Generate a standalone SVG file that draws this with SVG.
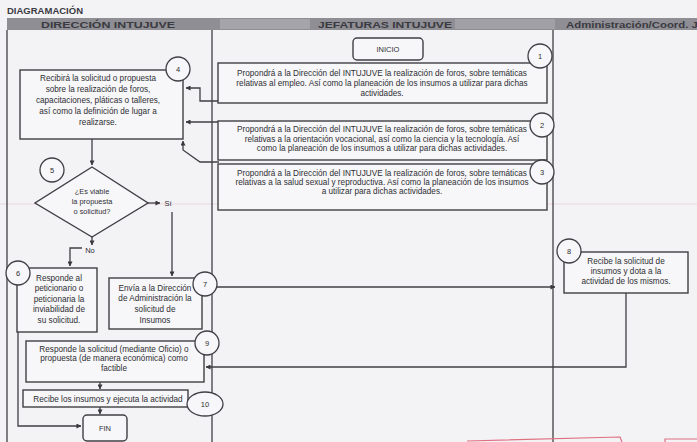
<svg xmlns="http://www.w3.org/2000/svg" width="697" height="442" viewBox="0 0 697 442">
<defs>
<marker id="ah" viewBox="0 0 6 6" refX="5.5" refY="3" markerWidth="5" markerHeight="5" orient="auto" markerUnits="userSpaceOnUse">
<path d="M0,0 L6,3 L0,6 z" fill="#3a3a3e"/>
</marker>
<style>
.bx{fill:#f7f7f9;stroke:#3f3f44;stroke-width:1.4}
.ci{fill:#f7f7f9;stroke:#3f3f44;stroke-width:1.3}
.ln{fill:none;stroke:#3f3f44;stroke-width:1.3}
.ct{fill:none;stroke:#3f3f44;stroke-width:1.3;marker-end:url(#ah)}
.t{font-family:"Liberation Sans",Arial,sans-serif;font-size:8.2px;fill:#2e2e33;text-anchor:middle}
.d{font-family:"Liberation Sans",Arial,sans-serif;font-size:7.4px;fill:#2e2e33;text-anchor:middle}
.n{font-family:"Liberation Sans",Arial,sans-serif;font-size:7.5px;fill:#2e2e33;text-anchor:middle}
.h{font-family:"Liberation Sans",Arial,sans-serif;font-size:8.5px;font-weight:bold;fill:#3a3a40}
</style>
</defs>
<rect x="0" y="0" width="697" height="442" fill="#f3f3f6"/>
<line x1="0" y1="204" x2="697" y2="204" stroke="#e9d6dc" stroke-width="1"/>
<text x="7" y="14" class="h" style="font-size:9.5px">DIAGRAMACIÓN</text>
<g id="header">
<rect x="7" y="18" width="690" height="12" fill="#8e8e94"/>
<rect x="220" y="19" width="90" height="10" fill="#a4a4aa"/>
<rect x="455" y="19" width="100" height="10" fill="#a0a0a6"/>
<text x="108" y="27.5" class="h" text-anchor="middle" textLength="134" lengthAdjust="spacingAndGlyphs">DIRECCIÓN INTUJUVE</text>
<text x="385" y="27.5" class="h" text-anchor="middle" textLength="134" lengthAdjust="spacingAndGlyphs">JEFATURAS INTUJUVE</text>
<text x="566" y="27.5" class="h" textLength="140" lengthAdjust="spacingAndGlyphs">Administración/Coord. JC</text>
</g>
<g id="lanes">
<line x1="7" y1="30" x2="7" y2="442" class="ln"/>
<line x1="212" y1="30" x2="212" y2="442" class="ln"/>
<line x1="553" y1="30" x2="553" y2="442" class="ln"/>
</g>
<g id="connectors">
<path d="M219,101 H200 V88 H186" class="ct"/>
<path d="M219,122 H186" class="ct"/>
<path d="M219,162 H200 L183,150 V141" class="ct"/>
<path d="M92,139 V165" class="ct"/>
<path d="M148,203 H160" class="ct"/>
<path d="M172,212 V276" class="ct"/>
<path d="M92,237 V245" class="ct"/>
<path d="M82,248 H70 V266" class="ct"/>
<path d="M18,332 V426 H81" class="ct"/>
<path d="M217,287 H555" class="ct"/>
<path d="M626,293 V367 H206" class="ct"/>
<path d="M100,382 V389" class="ct"/>
<path d="M100,407 V414" class="ct"/>
</g>
<g id="inicio">
<rect x="353" y="38" width="70" height="22" rx="4" class="bx"/>
<text x="388" y="52" class="n">INICIO</text>
</g>
<g id="n1">
<rect x="218" y="63" width="329" height="40" class="bx"/>
<text x="382" y="76" class="t">Propondrá a la Dirección del INTUJUVE la realización de foros, sobre temáticas</text>
<text x="382" y="86" class="t">relativas al empleo. Así como la planeación de los insumos a utilizar para dichas</text>
<text x="382" y="96" class="t">actividades.</text>
<circle cx="540" cy="56" r="12" class="ci"/>
<text x="540" y="59" class="n">1</text>
</g>
<g id="n2">
<rect x="218" y="121" width="329" height="39" class="bx"/>
<text x="382" y="132" class="t">Propondrá a la Dirección del INTUJUVE la realización de foros, sobre temáticas</text>
<text x="382" y="142" class="t">relativas a la orientación vocacional, así como la ciencia y la tecnología. Así</text>
<text x="382" y="151" class="t">como la planeación de los insumos a utilizar para dichas actividades.</text>
<circle cx="542" cy="125" r="12" class="ci"/>
<text x="542" y="128" class="n">2</text>
</g>
<g id="n3">
<rect x="218" y="164" width="329" height="46" class="bx"/>
<text x="382" y="176" class="t">Propondrá a la Dirección del INTUJUVE la realización de foros, sobre temáticas</text>
<text x="382" y="185" class="t">relativas a la salud sexual y reproductiva. Así como la planeación de los insumos</text>
<text x="382" y="194" class="t">a utilizar para dichas actividades.</text>
<circle cx="542" cy="172" r="12" class="ci"/>
<text x="542" y="175" class="n">3</text>
</g>
<g id="n4">
<rect x="20" y="70" width="163" height="69" class="bx"/>
<text x="98" y="81" class="t">Recibirá la solicitud o propuesta</text>
<text x="98" y="92" class="t">sobre la realización de foros,</text>
<text x="98" y="103" class="t">capacitaciones, pláticas o talleres,</text>
<text x="98" y="114" class="t">así como la definición de lugar a</text>
<text x="98" y="125" class="t">realizarse.</text>
<circle cx="178" cy="69" r="12" class="ci"/>
<text x="178" y="72" class="n">4</text>
</g>
<g id="n5">
<path d="M92,167 L148,203 L92,237 L35,203 z" class="bx"/>
<text x="92" y="194" class="d">¿Es viable</text>
<text x="92" y="204" class="d">la propuesta</text>
<text x="92" y="214" class="d">o solicitud?</text>
<circle cx="52" cy="170" r="12" class="ci"/>
<text x="52" y="173" class="n">5</text>
<text x="168" y="206" class="n">Sí</text>
<text x="90" y="253" class="n">No</text>
</g>
<g id="n6">
<rect x="17" y="268" width="80" height="64" class="bx"/>
<text x="59" y="281" class="t">Responde al</text>
<text x="59" y="291" class="t">peticionario o</text>
<text x="59" y="302" class="t">peticionaria la</text>
<text x="59" y="312" class="t">inviabilidad de</text>
<text x="59" y="323" class="t">su solicitud.</text>
<circle cx="18" cy="273" r="12" class="ci"/>
<text x="18" y="276" class="n">6</text>
</g>
<g id="n7">
<rect x="109" y="278" width="93" height="51" class="bx"/>
<text x="155" y="291" class="t">Envía a la Dirección</text>
<text x="155" y="301" class="t">de Administración la</text>
<text x="155" y="312" class="t">solicitud de</text>
<text x="155" y="323" class="t">Insumos</text>
<circle cx="205" cy="284" r="12" class="ci"/>
<text x="205" y="287" class="n">7</text>
</g>
<g id="n8">
<rect x="564" y="252" width="124" height="41" class="bx"/>
<text x="626" y="264" class="t">Recibe la solicitud de</text>
<text x="626" y="274" class="t">insumos y dota a la</text>
<text x="626" y="284" class="t">actividad de los mismos.</text>
<circle cx="569" cy="251" r="12" class="ci"/>
<text x="569" y="254" class="n">8</text>
</g>
<g id="n9">
<rect x="26" y="341" width="178" height="41" class="bx"/>
<text x="114" y="352" class="t">Responde la solicitud (mediante Oficio) o</text>
<text x="114" y="361" class="t">propuesta (de manera económica) como</text>
<text x="114" y="371" class="t">factible</text>
<circle cx="207" cy="343" r="12" class="ci"/>
<text x="207" y="346" class="n">9</text>
</g>
<g id="n10">
<rect x="23" y="390" width="165" height="17" class="bx"/>
<text x="108" y="401.5" class="t">Recibe los insumos y ejecuta la actividad</text>
<ellipse cx="205" cy="404" rx="18" ry="12" class="ci"/>
<text x="205" y="407" class="n">10</text>
</g>
<g id="fin">
<rect x="83" y="415" width="44" height="26" rx="4" class="bx"/>
<text x="105" y="431" class="n">FIN</text>
</g>
<path d="M467,441 L620,437 L622,442 M665,442 V439 H697" fill="none" stroke="#e07080" stroke-width="1.2"/>
</svg>
